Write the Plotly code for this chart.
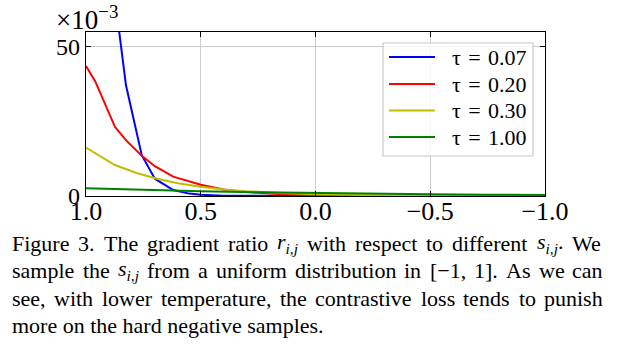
import re
import plotly.graph_objects as go

# data (values in units of 1e-3)
x_blue = [1.0, 0.87, 0.826, 0.757, 0.70, 0.62, 0.55, 0.5, 0.4, 0.2, 0.0, -0.5, -1.0]
y_blue = [440, 64, 37.2, 13.7, 5.8, 2.0, 0.8, 0.4, 0.1, 0.01, 0.0, 0.0, 0.0]

x_red = [1.0, 0.96, 0.874, 0.823, 0.757, 0.70, 0.62, 0.5, 0.4, 0.3, 0.15, 0.0, -0.3, -0.6, -1.0]
y_red = [43.6, 38.5, 23.2, 18.5, 13.5, 10.0, 6.5, 3.8, 2.2, 1.3, 0.6, 0.3, 0.07, 0.02, 0.0]

x_yel = [1.0, 0.874, 0.78, 0.69, 0.6, 0.5, 0.4, 0.3, 0.15, 0.0, -0.3, -0.6, -1.0]
y_yel = [16.2, 10.4, 7.7, 5.8, 4.3, 3.1, 2.2, 1.6, 1.0, 0.6, 0.22, 0.08, 0.02]

x_grn = [1.0, 0.75, 0.5, 0.25, 0.0, -0.25, -0.5, -0.75, -1.0]
y_grn = [2.6, 2.05, 1.6, 1.25, 0.96, 0.75, 0.58, 0.45, 0.35]

names = ["τ = 0.07", "τ = 0.20", "τ = 0.30", "τ = 1.00"]
colors = ["#0000ff", "#ff0000", "#bfbf00", "#008000"]

xtick_vals = [1.0, 0.5, 0.0, -0.5, -1.0]
xtick_text = ["1.0", "0.5", "0.0", "−0.5", "−1.0"]
ytick_vals = [0, 50]
ytick_text = ["0", "50"]

caption = [
    "Figure 3. The gradient ratio <i>r</i><sub><i>i,j</i></sub> with respect to different <i>s</i><sub><i>i,j</i></sub>. We",
    "sample the <i>s</i><sub><i>i,j</i></sub> from a uniform distribution in [−1, 1]. As we can",
    "see, with lower temperature, the contrastive loss tends to punish",
    "more on the hard negative samples.",
]
caption_justified = [True, True, True, False]

SERIF = "Liberation Serif"
CAP_SIZE = 22
CAP_LEFT, CAP_RIGHT = 12, 603

# Times / Liberation Serif advance widths (per 1000 em)
TW = {" ": 250, ",": 250, ".": 250, "[": 333, "]": 333, "−": 564,
      "A": 722, "F": 556, "T": 611, "W": 944,
      "a": 444, "b": 500, "c": 444, "d": 500, "e": 444, "f": 333, "g": 500, "h": 500,
      "i": 278, "j": 278, "k": 500, "l": 278, "m": 778, "n": 500, "o": 500, "p": 500,
      "q": 500, "r": 333, "s": 389, "t": 278, "u": 500, "v": 500, "w": 722, "x": 500,
      "y": 500, "z": 444}
TW_IT = {"r": 389, "s": 389, "i": 278, "j": 278, ",": 250}


def text_width(s, size):
    w = 0.0
    in_sub = in_it = False
    for tok in re.findall(r"<[^>]+>|[^<]", s):
        if tok.startswith("<"):
            t = tok.lower()
            if t == "<sub>": in_sub = True
            elif t == "</sub>": in_sub = False
            elif t == "<i>": in_it = True
            elif t == "</i>": in_it = False
            continue
        base = (TW_IT.get(tok) if in_it else None) or TW.get(tok, 500)
        w += base / 1000 * size * (0.7 if in_sub else 1.0)
    return w


fig = go.Figure()
for xs, ys, nm, c in zip([x_blue, x_red, x_yel, x_grn], [y_blue, y_red, y_yel, y_grn], names, colors):
    fig.add_trace(go.Scatter(x=xs, y=ys, mode="lines", name=nm, showlegend=False,
                             line=dict(color=c, width=2)))

L, R, T, B = 86, 74, 32, 157
W, H = 619, 353
pw, ph = W - L - R, H - T - B


def px(xp):
    return (xp - L) / pw


def py(yp):
    return (H - B - yp) / ph


axis_common = dict(showline=True, linecolor="black", linewidth=1.2, mirror="allticks",
                   ticks="inside", ticklen=5, tickcolor="black",
                   showgrid=True, gridcolor="#cccccc", gridwidth=1, zeroline=False)
fig.update_xaxes(range=[1.0, -1.0], tickvals=xtick_vals, ticktext=xtick_text,
                 ticklabelstandoff=-8,
                 tickfont=dict(family=SERIF, size=26, color="black"), **axis_common)
fig.update_yaxes(range=[0, 55], tickvals=ytick_vals, ticktext=ytick_text,
                 tickfont=dict(family=SERIF, size=24, color="black"), **axis_common)

ann = [dict(text="×10<sup>−3</sup>", xref="paper", yref="paper",
            x=px(55), y=py(17.5), xanchor="left", yanchor="middle",
            showarrow=False, borderpad=0,
            font=dict(family=SERIF, size=27, color="black"))]

# caption (justified lines placed word by word)
baselines = [250, 277, 305, 332]
for line, bl, just in zip(caption, baselines, caption_justified):
    yy = py(bl - 7)
    if not just:
        ann.append(dict(text=line, xref="paper", yref="paper", x=px(CAP_LEFT), y=yy,
                        xanchor="left", yanchor="middle", showarrow=False,
                        borderpad=0, borderwidth=0,
                        font=dict(family=SERIF, size=CAP_SIZE, color="black")))
        continue
    words = line.split(" ")
    widths = [text_width(w, CAP_SIZE) for w in words]
    gap = (CAP_RIGHT - CAP_LEFT - sum(widths)) / (len(words) - 1)
    xcur = CAP_LEFT
    for wd, ww in zip(words, widths):
        ann.append(dict(text=wd, xref="paper", yref="paper", x=px(xcur), y=yy,
                        xanchor="left", yanchor="middle", showarrow=False,
                        borderpad=0, borderwidth=0,
                        font=dict(family=SERIF, size=CAP_SIZE, color="black")))
        xcur += ww + gap

# legend: translucent frame, key lines and labels
shapes = [dict(type="rect", xref="paper", yref="paper",
               x0=px(383), x1=px(533), y0=py(156), y1=py(43),
               fillcolor="rgba(255,255,255,0.8)", line=dict(color="#c8c8c8", width=1.2),
               layer="above")]
rows = [57, 84, 110.5, 137]
for nm, c, ry in zip(names, colors, rows):
    shapes.append(dict(type="line", xref="paper", yref="paper",
                       x0=px(389), x1=px(435), y0=py(ry), y1=py(ry),
                       line=dict(color=c, width=2), layer="above"))
    ann.append(dict(text=nm.replace(" ", "\u2004"), xref="paper", yref="paper",
                    x=px(450), y=py(ry), xanchor="left", yanchor="middle",
                    showarrow=False, font=dict(family=SERIF, size=22, color="black")))

fig.update_layout(
    width=W, height=H, margin=dict(l=L, r=R, t=T, b=B),
    paper_bgcolor="white", plot_bgcolor="white",
    showlegend=False,
    annotations=ann, shapes=shapes,
)
fig.write_html("out.html")
